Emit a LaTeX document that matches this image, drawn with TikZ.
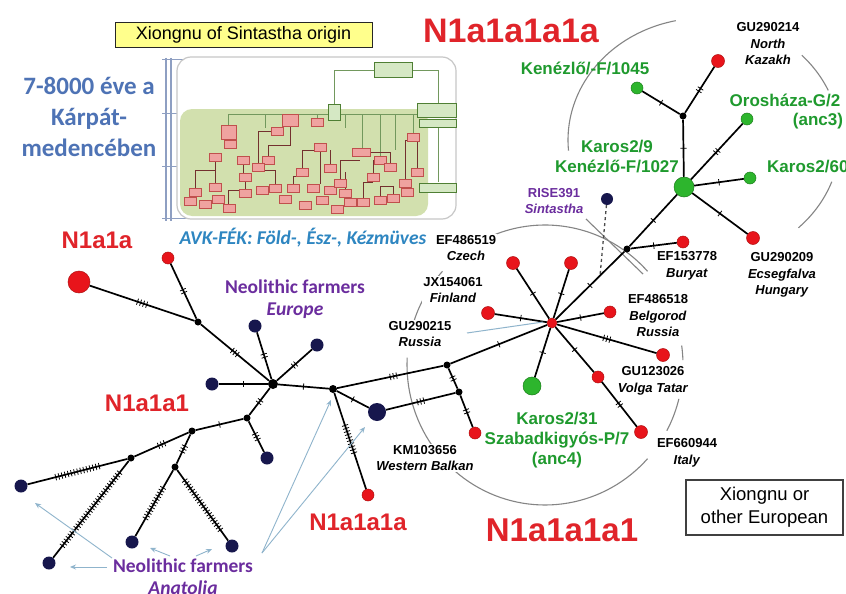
\documentclass[tikz,border=0pt]{standalone}
\usepackage{fontspec}
\setmainfont{Liberation Sans}
\newfontfamily\calfont{Carlito}
\usetikzlibrary{decorations.markings,arrows.meta}

\definecolor{nred}{HTML}{E8141B}
\definecolor{nredd}{HTML}{B01010}
\definecolor{tred}{HTML}{E0242A}
\definecolor{navy}{HTML}{17174D}
\definecolor{ngreen}{HTML}{2DB52D}
\definecolor{ngreend}{HTML}{1C7F1C}
\definecolor{tgreen}{HTML}{1F9A2E}
\definecolor{tpurple}{HTML}{6B2D9E}
\definecolor{tblue}{HTML}{4E73B5}
\definecolor{tcyan}{HTML}{2E86C1}
\definecolor{arcgray}{HTML}{858585}
\definecolor{ptr}{HTML}{8FB4CC}
\definecolor{insetgreen}{HTML}{D2E0AE}
\definecolor{boxred}{HTML}{EFA3A0}
\definecolor{boxredd}{HTML}{C0504D}
\definecolor{boxgreen}{HTML}{D5E8C4}
\definecolor{boxgreend}{HTML}{4F7F34}
\definecolor{ttlyellow}{HTML}{FFFF8C}
\definecolor{scalecol}{HTML}{8E9FC2}

\tikzset{
  edge/.style={line width=1.7pt,black},
  mut/.style 2 args={postaction={decorate,decoration={markings,mark=at position #1 with {\foreach \k in {1,...,#2}{\draw[line width=0.8pt,black] ({(\k-(#2+1)/2)*3.2pt},-3.2pt)--++(0,6.4pt);}}}}},
  dot/.style={circle,fill=black,inner sep=0pt,minimum size=7pt},
  rn/.style={circle,fill=nred,draw=nredd,line width=0.5pt,inner sep=0pt,minimum size=#1},
  rn/.default=13pt,
  nv/.style={circle,fill=navy,inner sep=0pt,minimum size=#1},
  nv/.default=13pt,
  gn/.style={circle,fill=ngreen,draw=ngreend,line width=0.5pt,inner sep=0pt,minimum size=#1},
  gn/.default=13pt,
  arcline/.style={arcgray,line width=1.1pt},
  acc/.style={font=\fontsize{13}{16.5}\selectfont\bfseries,align=center,inner sep=1pt,fill=white},
  gl/.style={font=\fontsize{17}{20}\selectfont\bfseries,text=tgreen,align=center,inner sep=1pt},
  rl/.style={font=\fontsize{24}{28}\selectfont\bfseries,text=tred,inner sep=0pt},
  pl/.style={font=\calfont\fontsize{19.5}{22}\selectfont\bfseries,text=tpurple,align=center,inner sep=1pt},
  pa/.style={ptr,line width=0.9pt,-{Stealth[length=6pt,width=5pt]}},
  inl/.style={boxgreend!80,line width=0.8pt},
  rbx/.style={fill=boxred,draw=boxredd,line width=0.6pt},
  gbx/.style={fill=boxgreen,draw=boxgreend,line width=0.9pt},
}

\begin{document}
\begin{tikzpicture}[x=1pt,y=-1pt]
\fill[white] (0,0) rectangle (846,594);
\useasboundingbox (0,0) rectangle (846,594);

% ---------------- inset tree image ----------------
\draw[scalecol,line width=1.3pt] (166,58)--(166,221);
\draw[scalecol,line width=1.3pt] (171,58)--(171,221);
\foreach \yy in {60,113,166,218} \draw[scalecol,line width=1pt] (162,\yy)--(188,\yy);
\draw[black!22,line width=1.2pt,rounded corners=14pt,fill=white] (177,57) rectangle (456,219);
\fill[insetgreen,rounded corners=12pt] (180,109) rectangle (428,216);
% connectors
\draw[inl] (334,112)--(334,70)--(374,70);
\draw[inl] (412,70)--(438,70)--(438,103);
\draw[inl] (438,128)--(438,182);
\draw[inl] (228,114)--(418,114);
\foreach \xx/\yb in {228/126,290/115,317/118,362/148,380/156,413/133,265/128,345/128,395/150}
  \draw[inl] (\xx,114)--(\xx,\yb);
\draw[boxredd!60!black,line width=0.6pt]
  (215,153)--(215,183) (243,156)--(243,173) (245,181)--(245,189) (258,163)--(258,131)--(271,131)
  (268,156)--(268,145)--(290,145)--(290,124) (302,168)--(302,150)--(317,150)
  (320,151)--(320,184) (330,164)--(330,150) (340,179)--(340,160)--(360,160)
  (373,173)--(373,160)--(380,160) (390,163)--(390,152)--(366,152)
  (405,179)--(405,140)--(413,140) (417,168)--(417,141) (363,198)--(363,182)--(373,182)
  (195,188)--(195,170)--(215,170) (228,204)--(228,190)--(245,190)
  (275,184)--(275,170)--(258,170) (293,184)--(293,176)--(302,176)
  (345,189)--(345,172) (380,196)--(380,186)--(393,186)--(393,194);
\foreach \bx/\by in {230/144,215/157,243/160,245/177,245/193,215/187,195/192,190/201,
  205/204,218/199,229/208,277/131,268/160,258/167,275/188,293/188,302/172,317/122,320/147,
  313/188,330/168,330/190,340/183,345/193,350/202,337/209,363/202,373/177,380/160,390/167,
  380/200,393/198,405/183,413/137,417/172,407/192,262/190,285/199,305/205,322/200}
  \filldraw[rbx] (\bx-6,\by-4) rectangle (\bx+6,\by+4);
\filldraw[rbx] (221,125) rectangle (236,139);
\filldraw[rbx] (282,114) rectangle (298,126);
\filldraw[rbx] (352,148) rectangle (370,156);
\filldraw[gbx] (374,62) rectangle (412,77);
\filldraw[gbx] (328,104) rectangle (340,120);
\filldraw[gbx] (417,103) rectangle (456,117);
\filldraw[gbx] (419,119) rectangle (456,127);
\filldraw[gbx] (419,183) rectangle (456,192);

% ---------------- circles (arcs) ----------------
\draw[arcline] plot[domain=-112:-42,samples=40] ({545+138*cos(\x)},{365+140*sin(\x)});
\draw[arcline] plot[domain=-162:-138,samples=20] ({545+138*cos(\x)},{365+140*sin(\x)});
\draw[arcline] plot[domain=42:183,samples=60] ({545+138*cos(\x)},{365+140*sin(\x)});
\draw[arcline] plot[domain=-8:-2,samples=8] ({545+138*cos(\x)},{365+140*sin(\x)});
\draw[arcline] plot[domain=14:28,samples=10] ({545+138*cos(\x)},{365+140*sin(\x)});
\draw[arcline] (586,219) -- (643,274);
\draw[arcline] plot[domain=175:258,samples=40] ({704+136*cos(\x)},{140+122*sin(\x)});
\draw[arcline] plot[domain=-44:-24,samples=12] ({704+136*cos(\x)},{140+122*sin(\x)});
\draw[arcline] plot[domain=20:46,samples=12] ({704+136*cos(\x)},{140+122*sin(\x)});

% ---------------- nodes ----------------
\node[rn=22pt] (bigred) at (79,282) {};
\node[rn=12pt] (sr1) at (168,258) {};
\node[dot] (j1) at (198,322) {};
\node[dot,minimum size=10pt] (hub) at (273,384) {};
\node[nv] (e1) at (255,326) {};
\node[nv] (e2) at (317,345) {};
\node[nv] (e3) at (212,384) {};
\node[dot] (j2) at (247,418) {};
\node[nv] (e4) at (267,458) {};
\node[dot] (j3) at (192,431) {};
\node[dot] (j4) at (131,458) {};
\node[nv] (l1) at (21,486) {};
\node[nv] (l2) at (49,563) {};
\node[dot] (j5) at (175,467) {};
\node[nv] (l3) at (132,542) {};
\node[nv] (l4) at (232,546) {};
\node[dot,minimum size=8pt] (j6) at (333,389) {};
\node[nv=18pt] (bn) at (377,412) {};
\node[rn=12pt] (r3a) at (368,495) {};
\node[dot] (j7) at (447,365) {};
\node[dot] (j8) at (459,392) {};
\node[rn=12pt] (wb) at (475,433) {};
\node[rn=10pt] (rh) at (552,323) {};
\node[rn] (ra) at (513,263) {};
\node[rn] (rb) at (571,263) {};
\node[rn] (rc) at (488,313) {};
\node[rn=12pt] (rd) at (610,312) {};
\node[rn] (re) at (663,355) {};
\node[rn=12pt] (rf) at (598,377) {};
\node[rn] (rg) at (641,432) {};
\node[gn=18pt] (ka31) at (532,386) {};
\node[dot] (jb) at (627,249) {};
\node[rn=12pt] (bur) at (683,242) {};
\node[nv=12pt] (rise) at (607,199) {};
\node[gn=20pt] (gh) at (684,187) {};
\node[dot] (jg) at (683,116) {};
\node[gn=12pt] (ken) at (637,88) {};
\node[rn] (gu14) at (718,61) {};
\node[gn=12pt] (oro) at (747,119) {};
\node[gn=12pt] (k60) at (750,178) {};
\node[rn] (gu09) at (753,238) {};
\coordinate (rj) at (600,276);

% ---------------- edges ----------------
\draw[edge,mut={0.5}{4}] (bigred) -- (j1);
\draw[edge,mut={0.5}{2}] (sr1) -- (j1);
\draw[edge,mut={0.5}{3}] (j1) -- (hub);
\draw[edge,mut={0.5}{2}] (hub) -- (e1);
\draw[edge,mut={0.5}{2}] (hub) -- (e2);
\draw[edge,mut={0.5}{1}] (hub) -- (e3);
\draw[edge,mut={0.5}{2}] (hub) -- (j2);
\draw[edge,mut={0.5}{3}] (j2) -- (e4);
\draw[edge,mut={0.5}{1}] (j2) -- (j3);
\draw[edge,mut={0.5}{3}] (j3) -- (j4);
\draw[edge,mut={0.5}{15}] (j4) -- (l1);
\draw[edge,mut={0.5}{30}] (j4) -- (l2);
\draw[edge,mut={0.5}{3}] (j3) -- (j5);
\draw[edge,mut={0.5}{12}] (j5) -- (l3);
\draw[edge,mut={0.5}{20}] (j5) -- (l4);
\draw[edge,mut={0.5}{1}] (hub) -- (j6);
\draw[edge,mut={0.5}{1}] (j6) -- (bn);
\draw[edge,mut={0.48}{10}] (j6) -- (r3a);
\draw[edge,mut={0.53}{3}] (j6) -- (j7);
\draw[edge,mut={0.5}{3}] (bn) -- (j8);
\draw[edge,mut={0.5}{2}] (j7) -- (j8);
\draw[edge,mut={0.5}{2}] (j8) -- (wb);
\draw[edge,mut={0.5}{1}] (j7) -- (rh);
\draw[edge,mut={0.5}{1}] (rh) -- (ra);
\draw[edge,mut={0.5}{1}] (rh) -- (rb);
\draw[edge,mut={0.5}{1}] (rh) -- (rc);
\draw[edge,mut={0.5}{1}] (rh) -- (rd);
\draw[edge,mut={0.5}{3}] (rh) -- (re);
\draw[edge,mut={0.5}{1}] (rh) -- (rf);
\draw[edge,mut={0.5}{2}] (rf) -- (rg);
\draw[edge,mut={0.5}{1}] (rh) -- (ka31);
\draw[edge,mut={0.5}{1}] (rh) -- (jb);
\draw[edge,mut={0.5}{1}] (jb) -- (bur);
\draw[edge,mut={0.5}{1}] (jb) -- (gh);
\draw[edge,mut={0.5}{1}] (gh) -- (jg);
\draw[edge,mut={0.5}{1}] (jg) -- (ken);
\draw[edge,mut={0.5}{2}] (jg) -- (gu14);
\draw[edge,mut={0.5}{2}] (gh) -- (oro);
\draw[edge,mut={0.5}{1}] (gh) -- (k60);
\draw[edge,mut={0.5}{1}] (gh) -- (gu09);
\draw[black!70,line width=1.3pt,dashed] (rise) -- (rj);

% ---------------- texts ----------------
\node[draw=black!85,fill=ttlyellow,line width=0.8pt,minimum width=257pt,minimum height=25pt,inner sep=0pt,
  font=\fontsize{18}{20}\selectfont] (title) at (243.5,34.5) {Xiongnu of Sintastha origin};
\node[font=\calfont\fontsize{25}{31}\selectfont\bfseries,text=tblue,align=center] (carp) at (89,117)
  {7-8000 éve a\\Kárpát-\\medencében};
\node[font=\calfont\fontsize{19.5}{22}\selectfont\bfseries\itshape,text=tcyan,inner sep=0pt] (avk) at (303,238)
  {AVK-FÉK: Föld-, Ész-, Kézmüves};

\node[rl,font=\fontsize{34}{36}\selectfont\bfseries] (lab5) at (511,31) {N1a1a1a1a};
\node[rl] (lab1) at (97,240) {N1a1a};
\node[rl] (lab2) at (147,403) {N1a1a1};
\node[rl] (lab3) at (358,522) {N1a1a1a};
\node[rl,font=\fontsize{33}{36}\selectfont\bfseries] (lab4) at (562,530) {N1a1a1a1};

\node[pl] (eur) at (295,299) {Neolithic farmers\\\textit{Europe}};
\node[pl] (anat) at (183,577) {Neolithic farmers\\\textit{Anatolia}};

\node[acc] (t14) at (768,44) {GU290214\\\textit{North}\\\textit{Kazakh}};
\node[acc] (t778) at (687,266) {EF153778\\\textit{Buryat}};
\node[acc] (t09) at (782,275) {GU290209\\\textit{Ecsegfalva}\\\textit{Hungary}};
\node[acc] (t518) at (658,316) {EF486518\\\textit{Belgorod}\\\textit{Russia}};
\node[acc] (t026) at (653,381) {GU123026\\\textit{Volga Tatar}};
\node[acc] (t944) at (687,453) {EF660944\\\textit{Italy}};
\node[acc] (t519) at (466,248) {EF486519\\\textit{Czech}};
\node[acc] (t061) at (453,290) {JX154061\\\textit{Finland}};
\node[acc] (t215) at (420,334) {GU290215\\\textit{Russia}};
\node[acc] (t656) at (425,458) {KM103656\\\textit{Western Balkan}};
\node[acc,fill=none,text=tpurple] (trise) at (554,201) {RISE391\\\textit{Sintastha}};

\node[gl] (g1045) at (585,68) {Kenézlő/-F/1045};
\node[gl] (goro) at (785,100) {Orosháza-G/2};
\node[gl] (ganc3) at (818,121) {(anc3)};
\node[gl] (g1027) at (617,157) {Karos2/9\\Kenézlő-F/1027};
\node[gl,anchor=west] (g60) at (766,167) {Karos2/60};
\node[gl] (g31) at (557,440) {Karos2/31\\Szabadkigyós-P/7\\(anc4)};

\node[draw=black!75,line width=1.1pt,minimum width=157pt,minimum height=55pt,align=center,
  font=\fontsize{18.5}{23}\selectfont] (xbox) at (764.5,507.5) {Xiongnu or\\other European};

% ---------------- pointers ----------------
\coordinate (p215a) at (467,333);
\coordinate (p215b) at (543,322);
\draw[ptr,line width=1pt] (p215a) -- (p215b);
\coordinate (s1) at (107,567); \coordinate (t1) at (70,567);
\coordinate (s2) at (112,558); \coordinate (t2) at (35,503);
\coordinate (s3) at (170,556); \coordinate (t3) at (150,548);
\coordinate (s4) at (196,556); \coordinate (t4) at (212,549);
\coordinate (s5) at (262,553); \coordinate (t5) at (331,400);
\coordinate (t6) at (365,427);
\draw[pa] (s1) -- (t1);
\draw[pa] (s2) -- (t2);
\draw[pa] (s3) -- (t3);
\draw[pa] (s4) -- (t4);
\draw[pa] (s5) -- (t5);
\draw[pa] (s5) -- (t6);
\end{tikzpicture}
\end{document}
